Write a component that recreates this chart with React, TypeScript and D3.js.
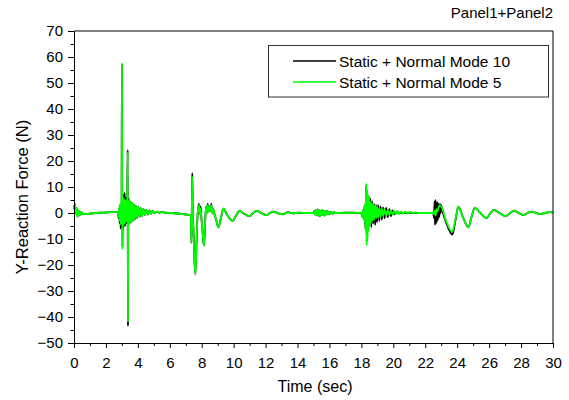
import * as d3 from "d3"
import { useEffect, useRef } from "react"

// axis ticks
const yTicks = [-50, -40, -30, -20, -10, 0, 10, 20, 30, 40, 50, 60, 70]
const yMinorTicks = [-45, -35, -25, -15, -5, 5, 15, 25, 35, 45, 55, 65]
const xTicks = [0, 2, 4, 6, 8, 10, 12, 14, 16, 18, 20, 22, 24, 26, 28, 30]
const xMinorTicks = [1, 3, 5, 7, 9, 11, 13, 15, 17, 19, 21, 23, 25, 27, 29]

const seriesNames = ["Static + Normal Mode 10", "Static + Normal Mode 5"]
const panelTitle = "Panel1+Panel2"

// [time (sec), force (N)], segment by segment
const quietStart = [
	[0, 3], [0.03, 1.2], [0.06, 3.5], [0.09, 0.5], [0.12, 2.2], [0.15, -0.5], [0.18, 1.8], [0.21, -1.4],
	[0.24, 1.2], [0.27, -1], [0.3, 0.8], [0.34, -0.9], [0.38, 0.5], [0.42, -0.6], [0.47, 0.2], [0.55, -0.4],
	[0.7, -0.4], [0.9, -0.3], [1.2, -0.1], [1.6, 0.1], [2.0, 0.2], [2.4, 0.3], [2.7, 0.3],
]

const mode10Burst1 = [
	[2.75, 0.3], [2.8, -2], [2.83, 2], [2.86, -4], [2.89, 3], [2.92, -6], [2.95, 4], [2.98, -5],
	[3.0, 57], [3.015, 8], [3.035, -13], [3.05, 4], [3.08, -6], [3.11, 7], [3.14, -5], [3.17, 7.8],
	[3.2, -5], [3.23, 6], [3.26, -4], [3.29, 5], [3.32, -4], [3.36, 24.3], [3.38, -43.5], [3.4, 6],
]
const mode5Burst1 = [
	[2.75, 0.3], [2.8, -1.5], [2.83, 2], [2.86, -3], [2.89, 3.5], [2.92, -4.5], [2.95, 4], [2.98, -3],
	[3.0, 57.5], [3.015, 8], [3.035, -14], [3.05, 4], [3.08, -5], [3.11, 6], [3.14, -4.5], [3.17, 5],
	[3.2, -4], [3.23, 5], [3.26, -3.5], [3.29, 4.5], [3.32, -3], [3.36, 23.5], [3.38, -42], [3.4, 5],
]
const tail1 = [
	[3.43, -4.5], [3.47, 5], [3.51, -4], [3.55, 4.5], [3.6, -3.5], [3.65, 3.8], [3.7, -3], [3.76, 3.2],
	[3.82, -2.5], [3.88, 2.8], [3.95, -2], [4.02, 2.4], [4.1, -1.6], [4.18, 2], [4.26, -1.2], [4.35, 1.6],
	[4.44, -0.8], [4.53, 1.2], [4.62, -0.6], [4.72, 1], [4.82, -0.3], [4.92, 0.8], [5.05, 0], [5.2, 0.5],
	[5.35, 0.1], [5.5, 0.3], [5.7, 0.1], [6.1, 0], [6.5, -0.2], [6.9, -0.5], [7.28, -0.9],
]

const mode10Burst2 = [
	[7.32, -1], [7.35, -11.5], [7.38, 1], [7.41, 15.3], [7.44, -2], [7.48, -6], [7.54, -18], [7.6, -23.5],
	[7.66, -14], [7.72, -3], [7.78, 2], [7.83, 3.5], [7.88, -0.5], [7.93, 2.5], [7.98, -2], [8.04, -6],
	[8.1, -11], [8.15, -12.2], [8.21, -4], [8.27, 2.5], [8.32, 0], [8.37, 3.5], [8.43, 0.5], [8.49, 2.5],
	[8.55, 0.8], [8.6, 3.5], [8.66, 0], [8.72, 1.5], [8.8, -0.5],
]
const mode5Burst2 = [
	[7.32, -1], [7.35, -11.5], [7.38, 1], [7.41, 14], [7.44, -2], [7.48, -6], [7.54, -18], [7.6, -23.8],
	[7.66, -14], [7.72, -3], [7.78, 2], [7.83, 3], [7.88, -0.5], [7.93, 1.8], [7.98, -2], [8.04, -6],
	[8.1, -11], [8.15, -12.7], [8.21, -4], [8.27, 2.5], [8.32, 0], [8.37, 3], [8.43, 0.5], [8.49, 2.5],
	[8.55, 0.8], [8.6, 3], [8.66, 0], [8.72, 1.5], [8.8, -0.5],
]
const tail2 = [
	[8.9, -2.5], [9.04, -5.5], [9.2, -2], [9.35, 1.7], [9.6, -0.8], [9.94, -3], [10.15, -1], [10.36, 0.8],
	[10.65, -0.3], [10.98, -1.2], [11.2, -0.1], [11.47, 0.8], [11.75, -0.1], [12.06, -0.8], [12.27, 0],
	[12.48, 0.5], [12.8, -0.1], [13.1, -0.5], [13.4, 0.3], [13.7, -0.1], [14.1, 0.1], [14.5, 0],
	[15.0, 0], [15.05, 0.8], [15.1, -0.6], [15.15, 1.2], [15.2, -0.9], [15.25, 1.4], [15.3, -1], [15.35, 1.1],
	[15.4, -1.3], [15.45, 0.9], [15.5, -0.8], [15.55, 1.2], [15.6, -0.7], [15.65, 0.9], [15.7, -1], [15.75, 0.7],
	[15.8, -0.5], [15.85, 0.8], [15.9, -0.6], [15.95, 0.5], [16.0, -0.4], [16.1, 0.5], [16.2, -0.3], [16.3, 0.3],
	[16.4, 0], [17.0, 0.1], [17.5, 0.1], [17.95, 0],
]

const mode10Burst3 = [
	[18.0, 0], [18.05, -1.5], [18.1, 1], [18.15, -2.5], [18.2, 3], [18.25, -6], [18.3, 10], [18.33, -11],
	[18.38, 6], [18.42, -5], [18.47, 6.3], [18.52, -4], [18.57, 5.5], [18.62, -5.4], [18.68, 4.5], [18.74, -4],
	[18.8, 3.5], [18.86, -4.6], [18.92, 3], [18.98, -3.5], [19.05, 3], [19.12, -3], [19.2, 2.5], [19.28, -2.5],
	[19.36, 2.2], [19.45, -2], [19.55, 2], [19.65, -1.6], [19.75, 1.5], [19.85, -1.2], [19.95, 1], [20.05, -0.5],
	[20.2, 0.3], [20.5, 0], [21.0, 0.1], [21.6, 0],
]
const mode5Burst3 = [
	[18.0, 0], [18.05, -1.5], [18.1, 1], [18.15, -2.5], [18.2, 3], [18.25, -6], [18.3, 11.4], [18.33, -12.5],
	[18.36, 9], [18.39, -10], [18.42, 7], [18.45, -7], [18.48, 6], [18.52, -5], [18.56, 4.5], [18.6, -4],
	[18.65, 4], [18.7, -3], [18.75, 3.5], [18.8, -2.5], [18.86, 3], [18.92, -2], [18.98, 2.5], [19.05, -1.8],
	[19.12, 2], [19.2, -1.5], [19.28, 1.8], [19.36, -1.2], [19.45, 1.5], [19.55, -1], [19.65, 1.2], [19.75, -0.8],
	[19.85, 1], [19.95, -0.6], [20.05, 0.8], [20.15, -0.5], [20.25, 0.7], [20.35, -0.4], [20.5, 0.6], [20.6, -0.3],
	[20.75, 0.5], [20.9, -0.2], [21.05, 0.4], [21.2, -0.1], [21.4, 0.2], [21.6, 0],
]

const mode10Burst4 = [
	[22.0, 0], [22.5, 0], [22.55, -2], [22.58, 4.5], [22.61, -4.6], [22.64, 5], [22.67, -4], [22.7, 4],
	[22.73, -3.5], [22.76, 4.2], [22.8, -2.5], [22.84, 3.5], [22.88, -1.5], [22.92, 3.5], [22.96, 0], [23.0, 3],
	[23.05, 1.5], [23.3, -3.5], [23.7, -8.3], [23.9, -2.5],
]
const mode5Burst4 = [
	[22.0, 0], [22.5, 0], [22.55, -0.5], [22.6, 1], [22.65, -1], [22.7, 1.5], [22.75, 0.5], [22.9, 3],
	[23.05, 2], [23.3, -3], [23.7, -7.2], [23.9, -2],
]
const tail4 = [
	[24.07, 2.4], [24.35, -1.5], [24.7, -5.5], [24.9, -1.5], [25.1, 2], [25.45, 0], [25.85, -2], [26.05, -0.3],
	[26.3, 1.2], [26.65, 0], [27.03, -1.2], [27.3, -0.1], [27.55, 0.9], [27.85, 0], [28.13, -0.8], [28.4, 0],
	[28.66, 0.5], [28.93, 0], [29.2, -0.4], [29.5, 0], [29.8, 0.3], [30, 0.1],
]

const mode10 = [...quietStart, ...mode10Burst1, ...tail1, ...mode10Burst2, ...tail2, ...mode10Burst3, ...mode10Burst4, ...tail4]
const mode5 = [...quietStart, ...mode5Burst1, ...tail1, ...mode5Burst2, ...tail2, ...mode5Burst3, ...mode5Burst4, ...tail4]

const colors = ["#000000", "#00ff00"]
const font = "Arial, 'Liberation Sans', sans-serif"

export default function App() {
	const svgRef = useRef(null)

	useEffect(() => {
		const svg = d3.select(svgRef.current)
		svg.selectAll("*").remove()

		const left = 74, right = 553, top = 31, bottom = 343

		const x = d3.scaleLinear().domain([0, 30]).range([left, right])
		const y = d3.scaleLinear().domain([-50, 70]).range([bottom, top])

		// data lines
		const line = d3.line()
			.x(d => x(d[0]))
			.y(d => y(d[1]))
			.curve(d3.curveMonotoneX)

		const plot = svg.append("g")
		;[mode10, mode5].forEach((s, i) => {
			plot.append("path")
				.attr("d", line(s))
				.attr("fill", "none")
				.attr("stroke", colors[i])
				.attr("stroke-width", 1.8)
				.attr("stroke-linejoin", "round")
		})

		// frame (top + right)
		svg.append("path")
			.attr("d", `M${left},${top}H${right}V${bottom}`)
			.attr("fill", "none")
			.attr("stroke", "#000")

		// Y axis
		const yAxis = svg.append("g")
			.attr("transform", `translate(${left},0)`)
			.call(d3.axisLeft(y).tickValues(yTicks).tickSize(6).tickPadding(5).tickSizeOuter(0))
		yAxis.append("g")
			.call(d3.axisLeft(y).tickValues(yMinorTicks).tickSize(3.5).tickFormat(() => "").tickSizeOuter(0))
			.select(".domain").remove()

		// X axis
		const xAxis = svg.append("g")
			.attr("transform", `translate(0,${bottom})`)
			.call(d3.axisBottom(x).tickValues(xTicks).tickSize(5).tickPadding(9).tickSizeOuter(0))
		xAxis.append("g")
			.call(d3.axisBottom(x).tickValues(xMinorTicks).tickSize(3).tickFormat(() => "").tickSizeOuter(0))
			.select(".domain").remove()

		svg.selectAll(".tick text")
			.attr("font-size", 15)
			.attr("font-family", font)
			.attr("fill", "#000")

		// axis titles
		svg.append("text")
			.attr("x", 315)
			.attr("y", 392)
			.attr("text-anchor", "middle")
			.attr("font-size", 16)
			.attr("font-family", font)
			.text("Time (sec)")

		svg.append("text")
			.attr("transform", "translate(28,197) rotate(-90)")
			.attr("text-anchor", "middle")
			.attr("font-size", 16.5)
			.attr("font-family", font)
			.text("Y-Reaction Force (N)")

		svg.append("text")
			.attr("x", right)
			.attr("y", 18)
			.attr("text-anchor", "end")
			.attr("font-size", 15)
			.attr("font-family", font)
			.text(panelTitle)

		// legend
		const legend = svg.append("g")
		legend.append("rect")
			.attr("x", 268.5)
			.attr("y", 45.5)
			.attr("width", 280)
			.attr("height", 51.5)
			.attr("fill", "#fff")
			.attr("stroke", "#333")
		seriesNames.forEach((name, i) => {
			const ly = 61 + i * 21
			legend.append("line")
				.attr("x1", 293).attr("x2", 336)
				.attr("y1", ly).attr("y2", ly)
				.attr("stroke", colors[i])
				.attr("stroke-width", 1.5)
			legend.append("text")
				.attr("x", 339)
				.attr("y", ly + 5.5)
				.attr("font-size", 15.5)
				.attr("font-family", font)
				.text(name)
		})
	}, [])

	return (
		<svg
			ref={svgRef}
			width={569}
			height={400}
			style={{ position: "absolute", left: 0, top: 0, background: "#fff" }}
		/>
	)
}
